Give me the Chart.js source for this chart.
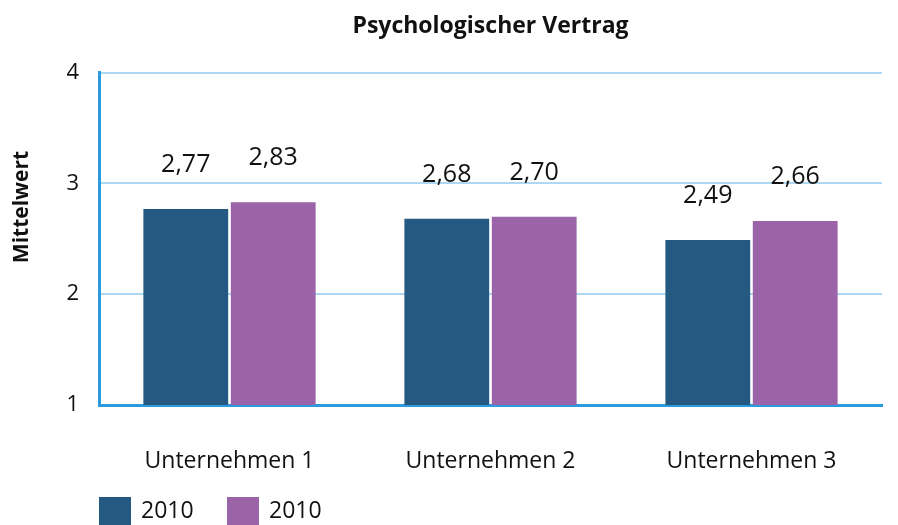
<!DOCTYPE html>
<html>
<head>
<meta charset="utf-8">
<script src="https://cdn.jsdelivr.net/npm/chart.js@4.4.1/dist/chart.umd.min.js"></script>
<style>
  html, body { margin: 0; padding: 0; background: #ffffff; }
  canvas { display: block; }
</style>
</head>
<body>
<canvas id="chart" width="898" height="525"></canvas>
<script>
const categories = ["Unternehmen 1", "Unternehmen 2", "Unternehmen 3"]
const seriesNames = ["2010", "2010"]
const seriesA = [2.77, 2.68, 2.49]
const seriesB = [2.83, 2.70, 2.66]
const yTicks = [1, 2, 3, 4]
const yTitle = "Mittelwert"

const FONT = "'Open Sans', 'Noto Sans', sans-serif"
const darkBlue = "#245a81"
const purple = "#9b63a8"
const axisBlue = "#2b9be0"
const gridBlue = "#acd9f1"

// value labels above each bar, German decimal comma
const valueLabels = {
    id: 'valueLabels',
    afterDatasetsDraw(chart) {
        const ctx = chart.ctx
        ctx.save()
        ctx.font = "25px " + FONT
        ctx.fillStyle = "#111111"
        ctx.textAlign = "center"
        ctx.textBaseline = "middle"
        chart.data.datasets.forEach((ds, i) => {
            chart.getDatasetMeta(i).data.forEach((bar, j) => {
                const txt = ds.data[j].toFixed(2).replace(".", ",")
                ctx.fillText(txt, bar.x, bar.y - 44)
            })
        })
        ctx.restore()
    }
}

// rotated y title, sits a bit above the middle like the original
const sideTitle = {
    id: 'sideTitle',
    afterDraw(chart) {
        const ctx = chart.ctx
        ctx.save()
        ctx.translate(22, 207)
        ctx.rotate(-Math.PI / 2)
        ctx.font = "bold 21px " + FONT
        ctx.fillStyle = "#111111"
        ctx.textAlign = "center"
        ctx.textBaseline = "middle"
        ctx.fillText(yTitle, 0, 0)
        ctx.restore()
    }
}

// legend drawn bottom left with big square swatches
const bottomLegend = {
    id: 'bottomLegend',
    afterDraw(chart) {
        const ctx = chart.ctx
        ctx.save()
        ctx.font = "23px " + FONT
        ctx.textBaseline = "middle"
        ctx.textAlign = "left"
        let x = chart.chartArea.left
        const y = 497
        chart.data.datasets.forEach(ds => {
            ctx.fillStyle = ds.backgroundColor
            ctx.fillRect(x, y, 32, 28)
            ctx.fillStyle = "#111111"
            ctx.fillText(ds.label, x + 42, y + 14)
            x += 128
        })
        ctx.restore()
    }
}

const graphConfig = {
    type: 'bar',
    data: {
        labels: categories,
        datasets: [{
            label: seriesNames[0],
            data: seriesA,
            backgroundColor: darkBlue,
            barPercentage: 0.97,
            categoryPercentage: 0.67,
        }, {
            label: seriesNames[1],
            data: seriesB,
            backgroundColor: purple,
            barPercentage: 0.97,
            categoryPercentage: 0.67,
        }],
    },
    options: {
        responsive: false,
        animation: false,
        layout: {
            padding: {left: 0, right: 16, top: 0, bottom: 0}
        },
        scales: {
            x: {
                grid: {display: false, drawTicks: false},
                border: {display: true, color: axisBlue, width: 3},
                ticks: {
                    color: "#111111",
                    font: {family: FONT, size: 23},
                    padding: 43,
                },
                afterFit: (s) => { s.height = 120 },
            },
            y: {
                min: 1,
                max: 4,
                afterBuildTicks: (s) => { s.ticks = yTicks.map(v => ({value: v})) },
                grid: {color: gridBlue, lineWidth: 2, drawTicks: false},
                border: {display: true, color: axisBlue, width: 3},
                ticks: {
                    color: "#111111",
                    font: {family: FONT, size: 22},
                    padding: 20,
                },
                afterFit: (s) => { s.width = 99 },
            },
        },
        plugins: {
            legend: {display: false},
            tooltip: {enabled: false},
            title: {
                display: true,
                fullSize: false,
                text: "Psychologischer Vertrag",
                color: "#111111",
                font: {family: FONT, size: 23, weight: 'bold'},
                padding: {top: 13, bottom: 32},
            },
        },
    },
    plugins: [valueLabels, sideTitle, bottomLegend],
}

const ctx = document.getElementById("chart")
const myChart = new Chart(ctx, graphConfig)
</script>
</body>
</html>
